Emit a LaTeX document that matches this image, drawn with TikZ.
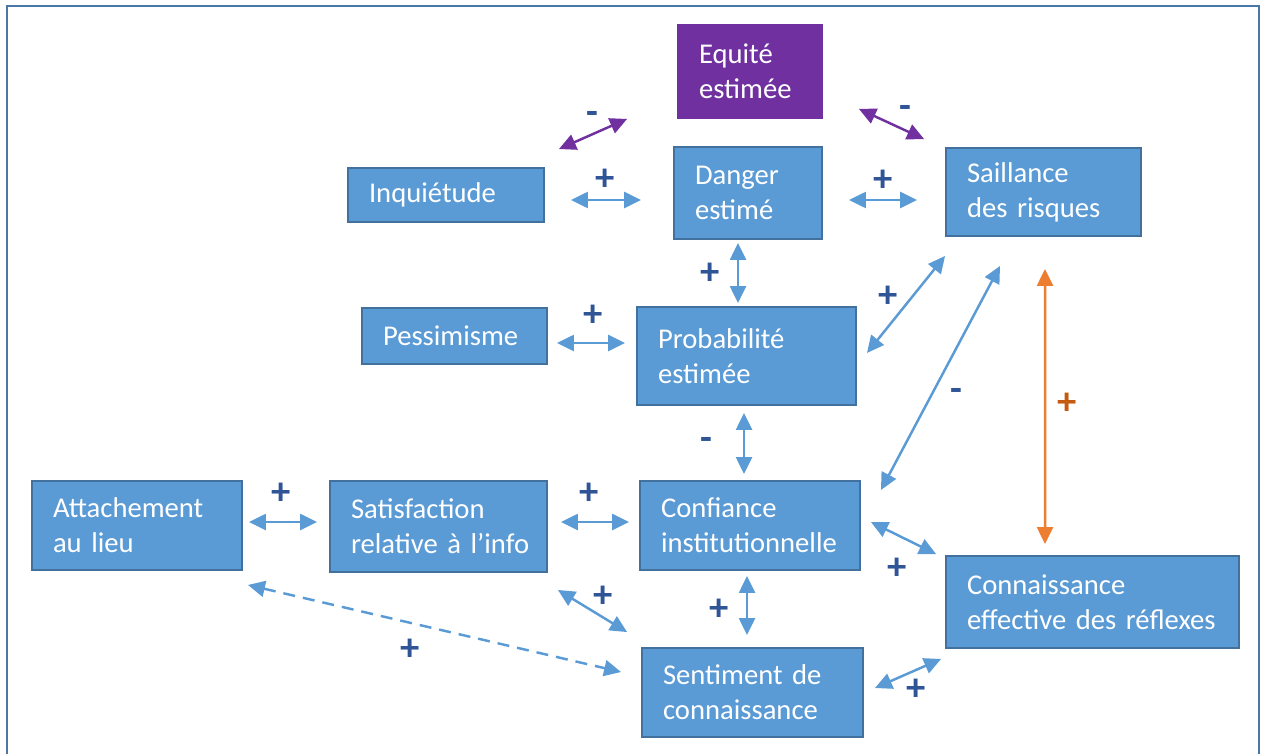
\documentclass[tikz,border=0pt]{standalone}
\usepackage{fontspec}
\setmainfont{Carlito}
\usetikzlibrary{arrows.meta}
\definecolor{boxblue}{HTML}{5B9BD5}
\definecolor{boxline}{HTML}{41719C}
\definecolor{frameblue}{HTML}{4A76A8}
\definecolor{signblue}{HTML}{2F5597}
\definecolor{eqpurple}{HTML}{7030A0}
\definecolor{linkorange}{HTML}{ED7D31}
\definecolor{signorange}{HTML}{C55A11}

\begin{document}
\begin{tikzpicture}[x=0.02cm,y=-0.02cm,line join=miter,
  every node/.style={inner sep=0pt},
  facteur/.style={draw=boxline,fill=boxblue,line width=1.1pt,text=white,
    align=left,inner xsep=0.42cm,font=\fontsize{16.3pt}{19.9pt}\selectfont},
  lien/.style={draw=boxblue,line width=1.4pt,{Triangle[length=0.34cm,width=0.32cm]}-{Triangle[length=0.34cm,width=0.32cm]}},
  signe/.style={text=signblue,font=\fontsize{22pt}{24pt}\selectfont\bfseries}]
  \useasboundingbox (0,0) rectangle (1266,753);
  % cadre
  \draw[frameblue,line width=1.2pt] (7,760) -- (7,6) -- (1259,6) -- (1259,760);
  % facteurs
  \node[facteur,draw=eqpurple,fill=eqpurple,text width=2.04cm,minimum height=1.86cm] (equ) at (750,71.5) {Equité\\estimée};
  \node[facteur,text width=3.08cm,minimum height=1.08cm] (inq) at (446,195) {Inquiétude};
  \node[facteur,text width=2.12cm,minimum height=1.84cm] (dan) at (748,193) {Danger\\estimé};
  \node[facteur,text width=3.06cm,minimum height=1.76cm] (sai) at (1043.5,192) {Saillance\\\mbox{des risques}};
  \node[facteur,text width=2.86cm,minimum height=1.12cm] (pes) at (454.5,336) {Pessimisme};
  \node[facteur,text width=3.54cm,minimum height=1.96cm] (pro) at (746.5,356) {Probabilité\\estimée};
  \node[facteur,text width=3.36cm,minimum height=1.78cm] (att) at (137,525.5) {Attachement\\\mbox{au lieu}};
  \node[facteur,text width=3.50cm,minimum height=1.82cm] (sat) at (438.5,526.5) {Satisfaction\\\mbox{relative à l’info}};
  \node[facteur,text width=3.56cm,minimum height=1.78cm] (con) at (750,525.5) {Confiance\\institutionnelle};
  \node[facteur,text width=5.02cm,minimum height=1.84cm] (ref) at (1092.5,602) {Connaissance\\\mbox{effective des réflexes}};
  \node[facteur,text width=3.58cm,minimum height=1.78cm] (sen) at (752.5,692.5) {\mbox{Sentiment de}\\connaissance};
  % liens avec l'équité
  \draw[lien,draw=eqpurple] ([shift={(14,-18)}]inq.north east) -- ([shift={(-50,0)}]equ.south west);
  \draw[lien,draw=eqpurple] ([shift={(36,-10)}]equ.south east) -- ([shift={(-21,-8)}]sai.north west);
  % liens du haut
  \draw[lien] ([shift={(26,5)}]inq.east) -- ([shift={(-32,7)}]dan.west);
  \draw[lien] ([shift={(26,7)}]dan.east) -- ([shift={(-28,8)}]sai.west);
  \draw[lien] ([shift={(-10,3)}]dan.south) -- ([shift={(-8.5,-3)}]pro.north);
  \draw[lien] ([shift={(9,7)}]pes.east) -- ([shift={(-11,-13)}]pro.west);
  \draw[lien] ([shift={(0,19)}]sai.south west) -- ([shift={(10,-3)}]pro.east);
  \draw[lien] ([shift={(-43.5,29)}]sai.south) -- ([shift={(20,-35.5)}]con.east);
  \draw[lien,draw=linkorange] ([shift={(1.5,32)}]sai.south) -- ([shift={(-47.5,-11)}]ref.north);
  \draw[lien] ([shift={(-2.5,7)}]pro.south) -- ([shift={(-6,-6)}]con.north);
  % liens du bas
  \draw[lien] ([shift={(6,-3.5)}]att.east) -- ([shift={(-12,-4.5)}]sat.west);
  \draw[lien] ([shift={(13,-4.5)}]sat.east) -- ([shift={(-10,-3.5)}]con.west);
  \draw[lien] ([shift={(10,-3.5)}]con.east) -- ([shift={(-9,-1)}]ref.north west);
  \draw[lien] ([shift={(10,17)}]sat.south east) -- ([shift={(-14,-15)}]sen.north west);
  \draw[lien] ([shift={(-3,5)}]con.south) -- ([shift={(-5.5,-12)}]sen.north);
  \draw[lien,dash pattern=on 0.24cm off 0.16cm] ([shift={(5,14)}]att.south east) -- ([shift={(-20,-20.5)}]sen.west);
  \draw[lien] ([shift={(11,-4.5)}]sen.east) -- ([shift={(-4,10)}]ref.south west);
  % signes
  \node[signe] (s1) at (592,118) {-};
  \node[signe] (s2) at (905,112) {-};
  \node[signe] (s3) at (605,180) {+};
  \node[signe] (s4) at (883,181) {+};
  \node[signe] (s5) at (710,274) {+};
  \node[signe] (s6) at (593,316) {+};
  \node[signe] (s7) at (888,297) {+};
  \node[signe] (s8) at (956,395) {-};
  \node[signe,text=signorange] (s9) at (1067,404) {+};
  \node[signe] (s10) at (706,444) {-};
  \node[signe] (s11) at (281,494) {+};
  \node[signe] (s12) at (589,494) {+};
  \node[signe] (s13) at (897,569) {+};
  \node[signe] (s14) at (603,597) {+};
  \node[signe] (s15) at (719,610) {+};
  \node[signe] (s16) at (410,650) {+};
  \node[signe] (s17) at (916,690) {+};
\end{tikzpicture}
\end{document}
